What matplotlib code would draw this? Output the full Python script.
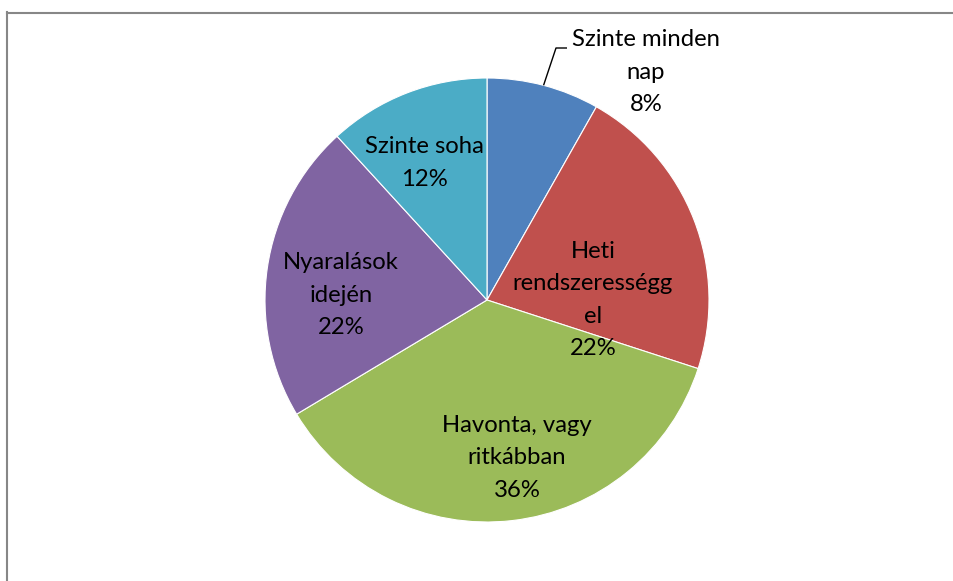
"""Pie chart: how often (Hungarian survey answers), Excel-style layout."""

import numpy as np
import matplotlib

matplotlib.use("Agg")
import matplotlib.pyplot as plt
from matplotlib.lines import Line2D

# Data (shares in %, clockwise from 12 o'clock)
LABELS = [
    "Szinte minden\nnap",
    "Heti\nrendszerességg\nel",
    "Havonta, vagy\nritkábban",
    "Nyaralások\nidején",
    "Szinte soha",
]
SHARES = [8.2, 21.8, 36.4, 21.8, 11.8]
COLORS = ["#4f81bd", "#c0504d", "#9bbb59", "#8064a2", "#4bacc6"]

# Label block centres in pixels (x, y from top), Excel "best fit" placement
LABEL_POS = [(646, 72), (593, 300), (517, 458), (341, 295), (424, 163)]

W, H = 954, 581
CX, CY, R = 487, 300, 222
BORDER = "#878787"

plt.rcParams["font.family"] = ["Lato", "DejaVu Sans"]

fig = plt.figure(figsize=(W / 100, H / 100), dpi=100)
fig.patch.set_facecolor("white")
ax = fig.add_axes((0, 0, 1, 1))


def flip(y):
    return H - y


ax.pie(
    SHARES, colors=COLORS, startangle=90, counterclock=False,
    center=(CX, flip(CY)), radius=R, frame=True,
    wedgeprops=dict(edgecolor="white", linewidth=0.8),
)
ax.set_xlim(0, W)
ax.set_ylim(0, H)
ax.set_aspect("equal")
ax.axis("off")

for label, share, (lx, ly) in zip(LABELS, SHARES, LABEL_POS):
    ax.text(
        lx, flip(ly), f"{label}\n{share:.0f}%", ha="center", va="center",
        fontsize=17.2, color="black", linespacing=1.66,
    )

# Leader line for the first (outside) label, from the wedge's mid-angle
mid = np.deg2rad(SHARES[0] / 100 * 360 / 2)
sx, sy = CX + R * np.sin(mid), CY - R * np.cos(mid)
ax.plot([sx, 556, 567], [flip(sy), flip(48), flip(48)], color="black",
        linewidth=1.0, solid_capstyle="butt")

# Chart-area border (only top and left edges visible in the crop)
fig.add_artist(Line2D([7 / W, 1], [1 - 12.5 / H] * 2, color=BORDER, linewidth=1.5))
fig.add_artist(Line2D([7.5 / W] * 2, [0, 1 - 12 / H], color=BORDER, linewidth=1.5))

fig.savefig("out.png", dpi=100, facecolor="white")
